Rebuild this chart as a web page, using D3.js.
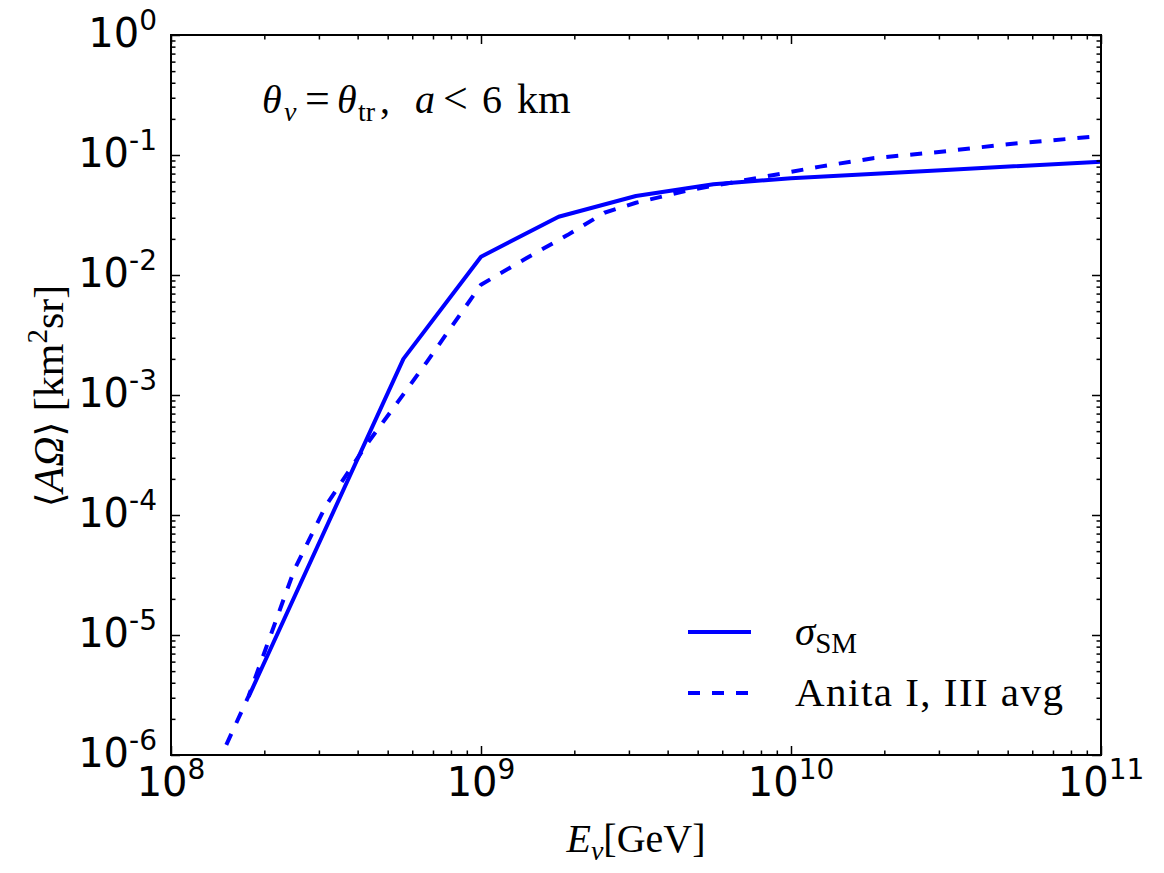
<!DOCTYPE html>
<html>
<head>
<meta charset="utf-8">
<script src="https://cdn.jsdelivr.net/npm/d3@7"></script>
<style>
  body { margin: 0; background: #fff; }
  svg { display: block; }
</style>
</head>
<body>
<svg id="chart" width="1164" height="873"></svg>
<script>
// sigma_SM curve
const solidE = [1.78e8, 5.62e8, 1e9, 1.78e9, 3.16e9, 5.62e9, 1e10, 3.16e10, 1e11];
const solidA = [3.06e-6, 2.0e-3, 1.42e-2, 3.06e-2, 4.55e-2, 5.7e-2, 6.4e-2, 7.5e-2, 8.8e-2];

// Anita I, III avg curve
const dashE = [1.40e8, 1.78e8, 2.5e8, 3.16e8, 4.3e8, 5.4e8, 6.7e8, 1e9, 1.4e9, 1.9e9, 2.5e9,
               3.16e9, 4.7e9, 6.7e9, 1.24e10, 1.84e10, 3.0e10, 5.0e10, 1e11];
const dashA = [8.0e-7, 3.1e-6, 3.5e-5, 1.2e-4, 3.95e-4, 8.8e-4, 1.9e-3, 8.3e-3, 1.38e-2, 2.15e-2, 3.3e-2,
               4.0e-2, 5.1e-2, 6.0e-2, 8.0e-2, 9.4e-2, 1.06e-1, 1.23e-1, 1.44e-1];

const xMajor = [1e8, 1e9, 1e10, 1e11];
const xMajorExp = ['8', '9', '10', '11'];
const yMajor = [1e-6, 1e-5, 1e-4, 1e-3, 1e-2, 1e-1, 1e0];
const yMajorExp = ['-6', '-5', '-4', '-3', '-2', '-1', '0'];

const series = [
    { name: 'sm', E: solidE, A: solidA, dash: null },
    { name: 'anita', E: dashE, A: dashA, dash: '12,12' }
];

const plotLeft = 171, plotRight = 1101, plotTop = 35, plotBottom = 755;
const svg = d3.select('#chart');
svg.append('rect').attr('width', 1164).attr('height', 873).attr('fill', '#fff');

const x = d3.scaleLog().domain([1e8, 1e11]).range([plotLeft, plotRight]);
const y = d3.scaleLog().domain([1e-6, 1e0]).range([plotBottom, plotTop]);

// minor ticks 2..9 in each decade
function minors(lo, hi) {
    const out = [];
    for (let e = lo; e < hi; e++) {
        for (let k = 2; k <= 9; k++) out.push(k * Math.pow(10, e));
    }
    return out;
}
const xMinor = minors(8, 11);
const yMinor = minors(-6, 0);

// clip for the curves
svg.append('defs').append('clipPath').attr('id', 'plot-clip')
    .append('rect')
    .attr('x', plotLeft).attr('y', plotTop)
    .attr('width', plotRight - plotLeft).attr('height', plotBottom - plotTop);

const line = d3.line()
    .x(d => x(d[0]))
    .y(d => y(d[1]));

const curves = svg.append('g').attr('clip-path', 'url(#plot-clip)');
series.forEach(s => {
    curves.append('path')
        .datum(s.E.map((e, i) => [e, s.A[i]]))
        .attr('d', line)
        .attr('fill', 'none')
        .attr('stroke', '#0000ff')
        .attr('stroke-width', 4)
        .attr('stroke-dasharray', s.dash)
        .attr('stroke-linejoin', 'round');
});

// ticks on all four sides, pointing inward
function tickAxis(axisFn, scale, values, size, transform) {
    const g = svg.append('g')
        .attr('transform', transform)
        .call(axisFn(scale).tickValues(values).tickSize(-size).tickFormat(''));
    g.select('.domain').remove();
    g.selectAll('line').attr('stroke', '#000').attr('stroke-width', 1.5);
}
tickAxis(d3.axisBottom, x, xMajor, 9, `translate(0,${plotBottom})`);
tickAxis(d3.axisBottom, x, xMinor, 4.5, `translate(0,${plotBottom})`);
tickAxis(d3.axisTop, x, xMajor, 9, `translate(0,${plotTop})`);
tickAxis(d3.axisTop, x, xMinor, 4.5, `translate(0,${plotTop})`);
tickAxis(d3.axisLeft, y, yMajor, 9, `translate(${plotLeft},0)`);
tickAxis(d3.axisLeft, y, yMinor, 4.5, `translate(${plotLeft},0)`);
tickAxis(d3.axisRight, y, yMajor, 9, `translate(${plotRight},0)`);
tickAxis(d3.axisRight, y, yMinor, 4.5, `translate(${plotRight},0)`);

// frame
svg.append('rect')
    .attr('x', plotLeft).attr('y', plotTop)
    .attr('width', plotRight - plotLeft).attr('height', plotBottom - plotTop)
    .attr('fill', 'none').attr('stroke', '#000').attr('stroke-width', 2);

// tick labels: 10 with a superscript exponent
const tickFont = 'DejaVu Sans, sans-serif';
function powerLabel(px, py, exp, anchor) {
    const t = svg.append('text')
        .attr('x', px).attr('y', py)
        .attr('text-anchor', anchor)
        .attr('font-family', tickFont)
        .attr('font-size', 40)
        .attr('fill', '#000');
    t.append('tspan').text('10');
    t.append('tspan').attr('dy', -17).attr('font-size', 28).text(exp);
}
xMajor.forEach((v, i) => powerLabel(x(v), plotBottom + 41, xMajorExp[i], 'middle'));
yMajor.forEach((v, i) => powerLabel(plotLeft - 14, y(v) + 12, yMajorExp[i], 'end'));

const serif = 'Liberation Serif, Times New Roman, serif';

// x axis label
const xl = svg.append('text')
    .attr('x', 636).attr('y', 852)
    .attr('text-anchor', 'middle')
    .attr('font-family', serif)
    .attr('font-size', 40);
xl.append('tspan').attr('font-style', 'italic').text('E');
xl.append('tspan').attr('font-style', 'italic').attr('font-size', 28).attr('dy', 8).text('ν');
xl.append('tspan').attr('dy', -8).text('[GeV]');

// y axis label
const yl = svg.append('text')
    .attr('transform', 'translate(63,396) rotate(-90)')
    .attr('text-anchor', 'middle')
    .attr('font-family', serif)
    .attr('font-size', 42);
yl.append('tspan').attr('font-family', 'DejaVu Serif, serif').attr('font-size', 38).text('⟨');
yl.append('tspan').attr('font-style', 'italic').text('AΩ');
yl.append('tspan').attr('font-family', 'DejaVu Serif, serif').attr('font-size', 38).text('⟩');
yl.append('tspan').text(' [km');
yl.append('tspan').attr('font-size', 29).attr('dy', -16).text('2');
yl.append('tspan').attr('dy', 16).text('sr]');

// annotation, placed piece by piece to follow the wider TeX spacing
const anY = 113;
const anParts = [
    { t: 'θ', x: 262, italic: true },
    { t: 'v', x: 284, italic: true, sub: true },
    { t: '=', x: 305 },
    { t: 'θ', x: 337, italic: true },
    { t: 'tr', x: 358, sub: true },
    { t: ',', x: 380 },
    { t: 'a', x: 415, italic: true },
    { t: '<', x: 443 },
    { t: '6', x: 482 },
    { t: 'km', x: 517 }
];
const an = svg.append('text')
    .attr('font-family', serif)
    .attr('font-size', 40);
anParts.forEach(p => {
    an.append('tspan')
        .attr('x', p.x)
        .attr('y', p.sub ? anY + 8 : anY)
        .attr('font-size', p.sub ? 28 : (p.t === '=' || p.t === '<' ? 44 : (p.t === 'km' ? 42 : 40)))
        .attr('font-style', p.italic ? 'italic' : 'normal')
        .text(p.t);
});

// legend
const legend = svg.append('g');
series.forEach((s, i) => {
    const ly = 632 + i * 61;
    legend.append('line')
        .attr('x1', 688).attr('x2', 751)
        .attr('y1', ly).attr('y2', ly)
        .attr('stroke', '#0000ff').attr('stroke-width', 4)
        .attr('stroke-dasharray', s.dash);
    const t = legend.append('text')
        .attr('x', 795).attr('y', ly + 13)
        .attr('font-family', serif)
        .attr('font-size', 41);
    if (s.name === 'sm') {
        t.append('tspan').attr('font-style', 'italic').text('σ');
        t.append('tspan').attr('font-size', 29).attr('dy', 8).text('SM');
    } else {
        t.attr('textLength', 268).attr('lengthAdjust', 'spacing').text('Anita I, III avg');
    }
});
</script>
</body>
</html>
